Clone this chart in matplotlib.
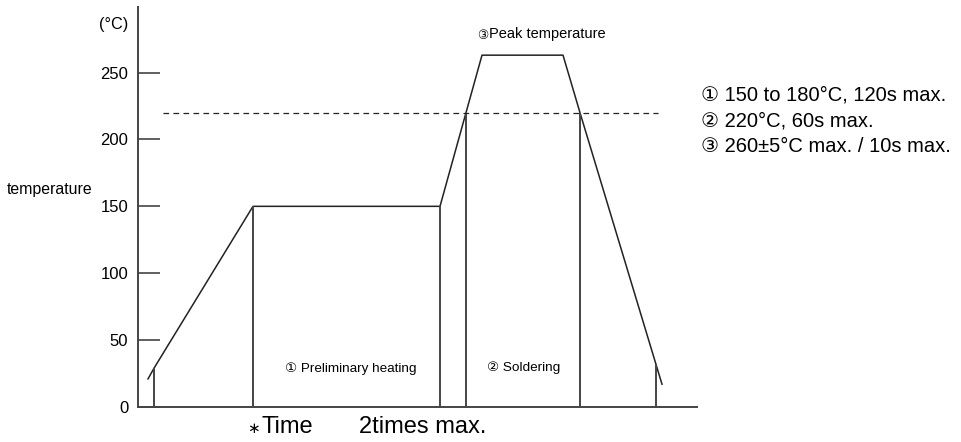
import numpy as np
import matplotlib
matplotlib.use("Agg")
import matplotlib.pyplot as plt

plt.rcParams['font.family'] = ['Liberation Sans', 'DejaVu Sans']

# ---------------------------- Data ----------------------------------
# reflow profile (time in arbitrary units, temperature in degC)
profile_time = [10, 16, 115, 302, 328, 344, 425, 442, 524]
profile_temp = [21, 29, 150, 150, 220, 263, 263, 220, 17]

# vertical marker lines (time positions)
marker_time = [16, 115, 302, 328, 442, 518]

limit_temp = 220
limit_span = [25, 520]

y_ticks = [0, 50, 100, 150, 200, 250]

notes = ["\u2460 150 to 180\u00b0C, 120s max.",
         "\u2461 220\u00b0C, 60s max.",
         "\u2462 260\u00b15\u00b0C max. / 10s max."]

# ---------------------------- Plot ----------------------------------
fig = plt.figure(figsize=(9.62, 4.42), dpi=100)
ax = fig.add_axes([138 / 962, 35 / 442, 559 / 962, 400 / 442])

ax.plot(profile_time, profile_temp, color="#222222", lw=1.1)

marker_temp = np.interp(marker_time, profile_time, profile_temp)
ax.vlines(marker_time, 0, marker_temp, color="#444444", lw=1.4)

ax.hlines(limit_temp, limit_span[0], limit_span[1], color="#222222",
          lw=0.9, linestyles=(0, (4.5, 3.5)))

ax.set_xlim(0, 559)
ax.set_ylim(0, 299)
ax.set_xticks([])
ax.set_yticks(y_ticks)
ax.tick_params(axis="y", direction="in", length=16, width=1.2,
               color="#444444", labelsize=12, pad=7)
for s in ["top", "right"]:
    ax.spines[s].set_visible(False)
for s in ["left", "bottom"]:
    ax.spines[s].set_color("#444444")
    ax.spines[s].set_linewidth(1.4)

# labels
fig.text(128 / 962, 1 - 25 / 442, "(\u00b0C)", ha="right", va="center", fontsize=11.7)
fig.text(7 / 962, 1 - 189 / 442, "temperature", ha="left", va="center", fontsize=11.4)
fig.text(247 / 962, 1 - 429 / 442, "\u2217", ha="left", va="center", fontsize=11)
fig.text(262 / 962, 1 - 427 / 442, "Time", ha="left", va="center", fontsize=17)
fig.text(359 / 962, 1 - 427 / 442, "2times max.", ha="left", va="center", fontsize=17)

fig.text(477 / 962, 1 - 36 / 442, "\u2462", ha="left", va="center", fontsize=9)
fig.text(489 / 962, 1 - 34 / 442, "Peak temperature", ha="left", va="center", fontsize=10.5)
fig.text(285 / 962, 1 - 369 / 442, "\u2460 Preliminary heating", ha="left", va="center", fontsize=9.7)
fig.text(487 / 962, 1 - 368 / 442, "\u2461 Soldering", ha="left", va="center", fontsize=9.7)

for i, n in enumerate(notes):
    fig.text(701 / 962, 1 - (95 + 26 * i) / 442, n, ha="left", va="center", fontsize=14.5)

fig.savefig("out.png", dpi=100)
